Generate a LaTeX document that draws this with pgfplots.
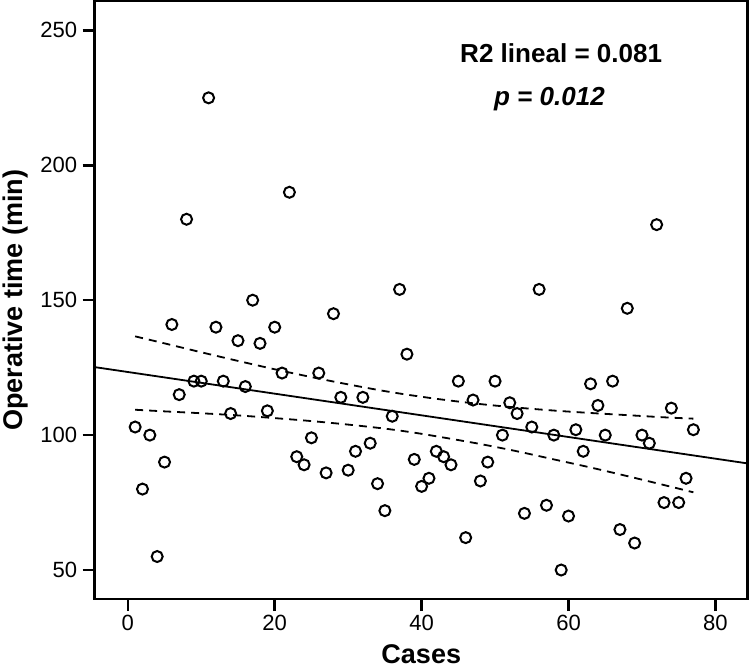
\documentclass[border=0pt]{standalone}
\usepackage{fontspec}
\setmainfont{Liberation Sans}
\usepackage{pgfplots}
\pgfplotsset{compat=1.18}

% case number vs operative time (min)
\pgfplotstableread{
x y
1 103
2 80
3 100
4 55
5 90
6 141
7 115
8 180
9 120
10 120
11 225
12 140
13 120
14 108
15 135
16 118
17 150
18 134
19 109
20 140
21 123
22 190
23 92
24 89
25 99
26 123
27 86
28 145
29 114
30 87
31 94
32 114
33 97
34 82
35 72
36 107
37 154
38 130
39 91
40 81
41 84
42 94
43 92
44 89
45 120
46 62
47 113
48 83
49 90
50 120
51 100
52 112
53 108
54 71
55 103
56 154
57 74
58 100
59 50
60 70
61 102
62 94
63 119
64 111
65 100
66 120
67 65
68 147
69 60
70 100
71 97
72 178
73 75
74 110
75 75
76 84
77 102
}\cases

% 95% confidence band of the mean
\pgfplotstableread{
x up lo
1 136.6 109.4
5 134.0 108.8
10 130.7 108.1
15 127.5 107.3
20 124.4 106.3
25 121.5 105.2
30 118.8 103.9
35 116.3 102.4
39 114.6 100.9
43 113.1 99.1
48 111.5 96.7
53 110.2 94.0
58 109.1 91.0
63 108.2 88.0
68 107.4 84.8
73 106.6 81.5
77 106.1 78.8
}\band

\begin{document}
\begin{tikzpicture}
\begin{axis}[
  scale only axis,
  width=652pt, height=597pt,
  xmin=-4.5, xmax=84.4,
  ymin=39.2, ymax=260.8,
  xtick={0,20,40,60,80},
  ytick={50,100,150,200,250},
  tick align=outside,
  tick pos=left,
  major tick length=12pt,
  every tick/.style={black, line width=2.5pt},
  axis line style={line width=2.5pt},
  /pgf/number format/assume math mode=true,
  ticklabel style={font=\fontsize{22}{24}\selectfont},
  yticklabel style={xshift=-2pt},
  xlabel={\textbf{Cases}\rule[-5pt]{0pt}{5pt}},
  ylabel={\textbf{Operative time (min)}},
  label style={font=\fontsize{27}{30}\selectfont},
  xlabel style={at={(axis description cs:0.5,0)}, anchor=base, yshift=-64pt, inner sep=0pt},
  ylabel style={yshift=5pt},
  clip=true,
]
\addplot[only marks, mark=o, mark size=5.5pt, line width=2pt, black] table[x=x, y=y] {\cases};
\addplot[black, line width=1.8pt] coordinates {(-4.5,125.2) (84.4,89.5)};
\addplot[black, line width=1.8pt, dash pattern=on 8pt off 6pt, smooth] table[x=x, y=up] {\band};
\addplot[black, line width=1.8pt, dash pattern=on 8pt off 6pt, smooth] table[x=x, y=lo] {\band};
\node[font=\fontsize{26}{30}\selectfont\bfseries] at (axis cs:59.0,241.5) {R2 lineal = 0.081};
\node[font=\fontsize{26}{30}\selectfont\bfseries\itshape] at (axis cs:57.4,224.7) {p = 0.012};
\end{axis}
\end{tikzpicture}
\end{document}
